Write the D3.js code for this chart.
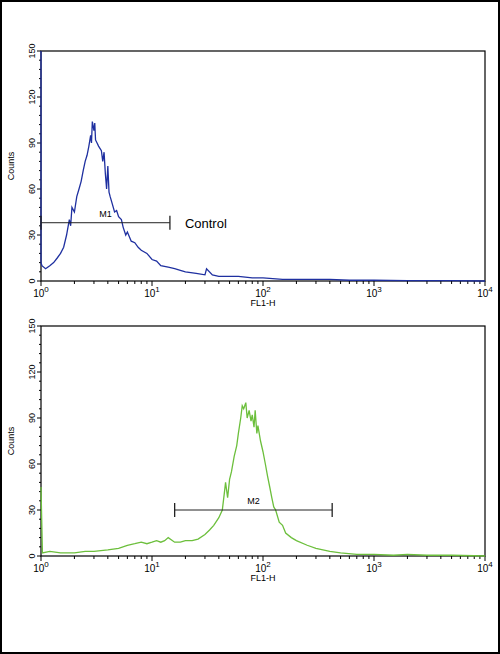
<!DOCTYPE html>
<html><head><meta charset="utf-8">
<script src="https://cdn.jsdelivr.net/npm/d3@7"></script>
<style>body{margin:0;background:#fff}svg{display:block}</style>
</head><body>
<svg id="chart" width="500" height="654"></svg>
<script>
// control histogram (FL1-H, counts)
const controlX = [1.0,1.0,1.02,1.1,1.2,1.3,1.4,1.5,1.6,1.7,1.8,1.85,1.9,2.0,2.1,2.2,2.3,2.4,2.5,2.6,2.7,2.8,2.85,2.9,3.0,3.05,3.1,3.2,3.3,3.5,3.6,3.7,3.8,3.9,4.0,4.1,4.2,4.4,4.6,4.8,5.0,5.3,5.5,5.8,6.0,6.5,7,7.5,8,9,10,11,12,14,16,18,20,25,30,31,35,40,50,60,80,100,150,200,300,400,600,1000,2000,5000,10000];
const controlY = [150,12,10,8,10,12,15,18,22,30,40,36,48,45,55,60,65,72,78,82,88,95,90,104,98,103,92,90,88,85,78,84,70,60,75,58,55,50,45,46,42,40,35,30,32,26,25,22,20,18,14,13,10,9,8,7,6,5,4,8,4,3,3,3,2,2,1,1,1,1,0.5,0.5,0.3,0.3,0];
// stained histogram
const stainX = [1.0,1.0,1.03,1.2,1.5,2,2.5,3,4,5,6,7,8,9,10,11,12,13,14,16,18,20,23,26,30,33,36,40,43,45,46,48,50,52,55,58,60,63,65,67,70,72,75,78,80,83,85,88,90,95,100,105,110,115,120,125,130,140,150,160,180,200,250,300,400,500,700,1000,1500,2000,3000,5000,10000];
const stainY = [45,45,2,3,2,2,3,3,4,5,7,8,9,8,9,10,9,10,12,9,9,10,10,11,14,17,20,25,30,42,48,38,50,55,65,72,80,90,98,96,100,90,95,88,92,84,95,80,85,75,68,60,52,45,38,32,30,22,20,15,12,10,7,5,3,2,1,1,0.5,1,0.5,0.5,0];

const controlGate = [1.0, 14.5], controlGateY = 38;
const stainGate = [16, 420], stainGateY = 30;
const yTicks = [0, 30, 60, 90, 120, 150];
const xDecades = [1, 10, 100, 1000, 10000];

const svg = d3.select("#chart");
svg.append("rect").attr("x",1).attr("y",1).attr("width",498).attr("height",652)
  .attr("fill","none").attr("stroke","#000").attr("stroke-width",2);

function panel(top, xs, ys, color, gate, gateY, gateLabel, extra) {
  const m = {l: 41, r: 485, t: top, b: top + 230};
  const x = d3.scaleLog().domain([1, 10000]).range([m.l, m.r]);
  const y = d3.scaleLinear().domain([0, 150]).range([m.b, m.t]);
  const g = svg.append("g");
  g.append("rect").attr("x", m.l).attr("y", m.t).attr("width", m.r - m.l).attr("height", m.b - m.t)
    .attr("fill", "none").attr("stroke", "#000").attr("stroke-width", 1.2);
  // y ticks
  d3.range(0, 151, 6).forEach(v => {
    const major = v % 30 === 0;
    g.append("line").attr("x1", m.l - (major ? 4 : 2)).attr("x2", m.l)
      .attr("y1", y(v)).attr("y2", y(v)).attr("stroke", "#000");
  });
  yTicks.forEach(v => {
    g.append("text").attr("transform", `translate(${m.l - 6},${y(v)}) rotate(-90)`)
      .attr("text-anchor", "middle").attr("font-family", "Liberation Sans, Arial").attr("font-size", 9).text(v);
  });
  g.append("text").attr("transform", `translate(14,${(m.t + m.b) / 2}) rotate(-90)`)
    .attr("text-anchor", "middle").attr("font-family", "Liberation Sans, Arial").attr("font-size", 9).text("Counts");
  // x ticks
  xDecades.forEach((d, i) => {
    g.append("line").attr("x1", x(d)).attr("x2", x(d)).attr("y1", m.b).attr("y2", m.b + 5).attr("stroke", "#000");
    if (i < xDecades.length - 1) d3.range(2, 10).forEach(k => {
      g.append("line").attr("x1", x(d * k)).attr("x2", x(d * k)).attr("y1", m.b).attr("y2", m.b + 3).attr("stroke", "#000");
    });
    const t = g.append("text").attr("x", x(d)).attr("y", m.b + 16).attr("text-anchor", "middle")
      .attr("font-family", "Liberation Sans, Arial").attr("font-size", 10);
    t.append("tspan").text("10");
    t.append("tspan").attr("dy", -5).attr("font-size", 8).text(i);
  });
  g.append("text").attr("x", (m.l + m.r) / 2).attr("y", m.b + 25).attr("text-anchor", "middle")
    .attr("font-family", "Liberation Sans, Arial").attr("font-size", 9).text("FL1-H");
  // histogram
  const line = d3.line().x(d => x(d[0])).y(d => y(d[1]));
  g.append("path").datum(d3.zip(xs, ys)).attr("d", line).attr("fill", "none")
    .attr("stroke", color).attr("stroke-width", 1.3);
  // gate marker
  const gy = y(gateY);
  g.append("line").attr("x1", x(gate[0])).attr("x2", x(gate[1])).attr("y1", gy).attr("y2", gy).attr("stroke", "#222");
  gate.forEach(v => g.append("line").attr("x1", x(v)).attr("x2", x(v)).attr("y1", gy - 7).attr("y2", gy + 7).attr("stroke", "#222").attr("stroke-width", 1.3));
  const mid = Math.sqrt(gate[0] * gate[1]);
  g.append("text").attr("x", x(mid)).attr("y", gy - 6).attr("text-anchor", "middle")
    .attr("font-family", "Liberation Sans, Arial").attr("font-size", 9).text(gateLabel);
  if (extra) g.append("text").attr("x", x(gate[1]) + 15).attr("y", gy + 5)
    .attr("font-family", "Liberation Sans, Arial").attr("font-size", 13).text(extra);
}

panel(51, controlX, controlY, "#1f30a0", controlGate, controlGateY, "M1", "Control");
panel(326, stainX, stainY, "#6cbf3c", stainGate, stainGateY, "M2", null);
</script>
</body></html>
